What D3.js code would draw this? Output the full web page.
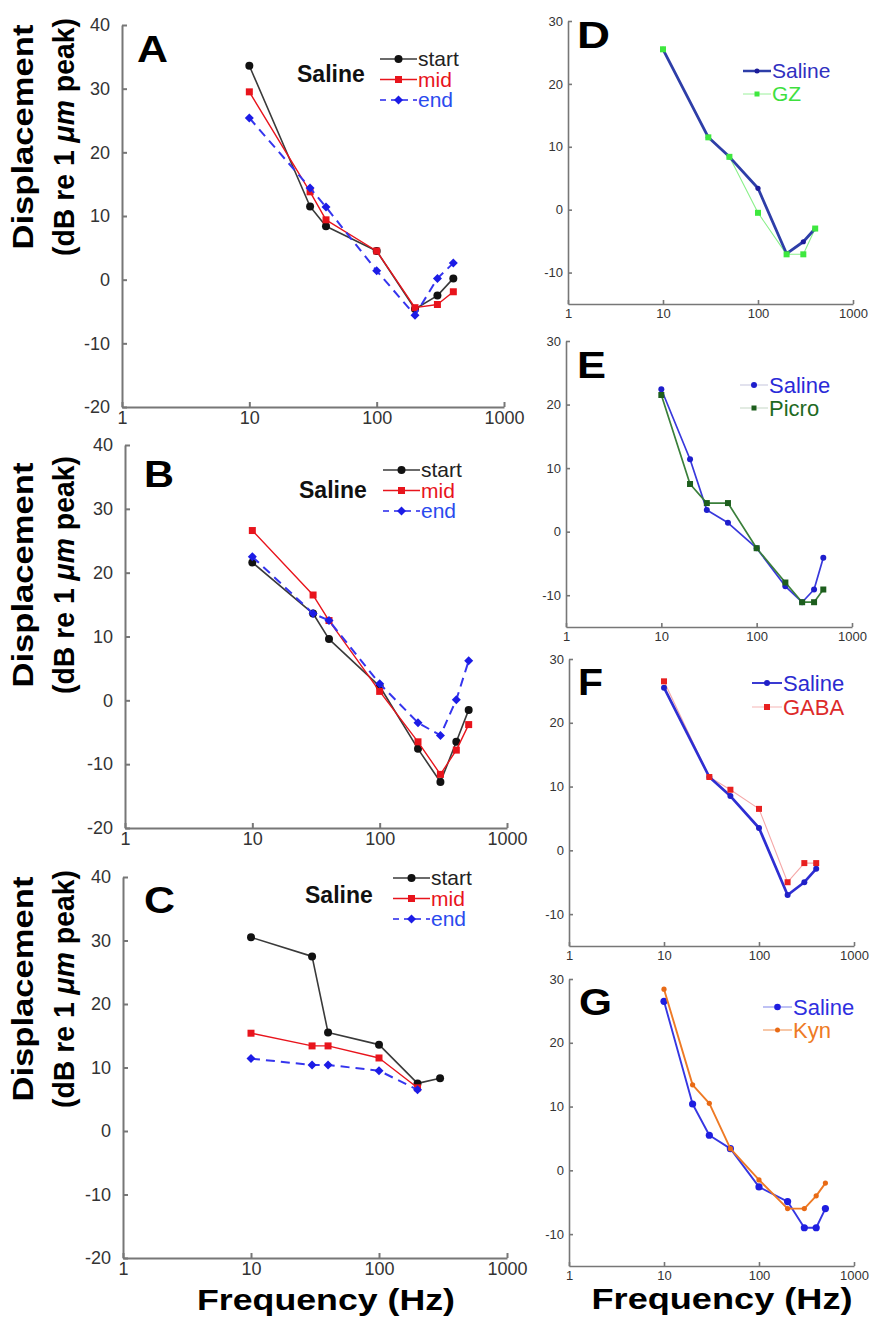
<!DOCTYPE html>
<html>
<head>
<meta charset="utf-8">
<script src="https://cdn.jsdelivr.net/npm/d3@7"></script>
<style>
  body { margin: 0; background: #fff; }
  svg { display: block; }
</style>
</head>
<body>
<script>
// Frequencies (Hz) and displacement (dB re 1 µm peak)
const xTicks = [1, 10, 100, 1000];
const yTicksLeft = [-20, -10, 0, 10, 20, 30, 40];
const yTicksRight = [-10, 0, 10, 20, 30];

const freqA = [10, 30, 40, 100, 200, 300, 400];
const aStart = [33.6, 11.5, 8.4, 4.5, -4.6, -2.5, 0.2];
const aMid   = [29.5, 13.8, 9.4, 4.5, -4.4, -3.9, -1.9];
const aEnd   = [25.4, 14.4, 11.4, 1.4, -5.6, 0.2, 2.6];

const freqB = [10, 30, 40, 100, 200, 300, 400, 500];
const bStart = [21.6, 13.6, 9.6, 2.2, -7.6, -12.8, -6.5, -1.5];
const bMid   = [26.6, 16.5, 12.5, 1.4, -6.5, -11.6, -7.8, -3.8];
const bEnd   = [22.5, 13.6, 12.5, 2.6, -3.5, -5.5, 0.1, 6.2];

const freqC = [10, 30, 40, 100, 200, 300];
const cStart = [30.5, 27.5, 15.5, 13.6, 7.5, 8.3];
const freqC2 = [10, 30, 40, 100, 200];
const cMid   = [15.4, 13.4, 13.4, 11.5, 6.8];
const cEnd   = [11.4, 10.4, 10.4, 9.5, 6.5];

const freqD = [10, 30, 50, 100, 200, 300, 400];
const dSaline = [25.5, 11.5, 8.4, 3.4, -7.0, -5.1, -3.0];
const dGZ     = [25.5, 11.5, 8.4, -0.5, -7.1, -7.1, -3.0];

const freqE = [10, 20, 30, 50, 100, 200, 300, 400, 500];
const eSaline = [22.4, 11.4, 3.4, 1.4, -2.6, -8.6, -11.1, -9.1, -4.1];
const ePicro  = [21.5, 7.5, 4.5, 4.5, -2.6, -8.0, -11.1, -11.1, -9.1];

const freqF = [10, 30, 50, 100, 200, 300, 400];
const fSaline = [25.5, 11.5, 8.5, 3.5, -7.0, -5.0, -2.9];
const fGABA   = [26.5, 11.5, 9.5, 6.5, -5.0, -2.0, -2.0];

const freqG = [10, 20, 30, 50, 100, 200, 300, 400, 500];
const gSaline = [26.5, 10.4, 5.5, 3.4, -2.6, -4.9, -9.0, -9.0, -6.0];
const gKyn    = [28.4, 13.4, 10.5, 3.4, -1.5, -6.0, -6.0, -4.0, -2.0];

const W = 875, H = 1318;
const FONT = "'Liberation Sans', Arial, Helvetica, sans-serif";

const svg = d3.select("body").append("svg")
  .attr("width", W).attr("height", H)
  .attr("viewBox", [0, 0, W, H])
  .style("font-family", FONT);

const zip = (xs, ys) => xs.map((f, i) => [f, ys[i]]);

function marker(g, shape, cx, cy, size, fill) {
  if (shape === "circle") {
    g.append("circle").attr("cx", cx).attr("cy", cy).attr("r", size).attr("fill", fill);
  } else if (shape === "square") {
    g.append("path").attr("d", d3.symbol().type(d3.symbolSquare).size(size * size)())
      .attr("transform", `translate(${cx},${cy})`).attr("fill", fill);
  } else {
    // even diamond: a square turned 45 degrees
    g.append("path").attr("d", d3.symbol().type(d3.symbolSquare).size(size * size / 2)())
      .attr("transform", `translate(${cx},${cy}) rotate(45)`).attr("fill", fill);
  }
}

function panel(p) {
  const g = svg.append("g");
  const x = d3.scaleLog().domain([1, 1000]).range([p.x0, p.x1]);
  const y = d3.scaleLinear().domain(p.yDomain).range([p.yBot, p.yTop]);

  const big = p.big;
  const ax = g.append("g").attr("transform", `translate(0,${p.yBot})`)
    .call(d3.axisBottom(x).tickValues(xTicks).tickFormat(d => String(d))
      .tickSizeInner(big ? -5 : -4).tickSizeOuter(0).tickPadding(big ? 4 : 5));
  const ay = g.append("g").attr("transform", `translate(${p.x0},0)`)
    .call(d3.axisLeft(y).tickValues(big ? yTicksLeft : yTicksRight).tickFormat(d => String(d))
      .tickSizeInner(big ? -5 : -4).tickSizeOuter(0).tickPadding(big ? 12 : 5));
  for (const a of [ax, ay]) {
    a.select(".domain").attr("stroke", "#777").attr("stroke-width", big ? 2 : 1.6);
    a.selectAll(".tick line").attr("stroke", "#777").attr("stroke-width", big ? 2 : 1.6);
    a.selectAll(".tick text").attr("fill", "#333")
      .style("font-family", FONT).style("font-size", big ? "18px" : "13px");
  }

  const line = d3.line().x(d => x(d[0])).y(d => y(d[1]));
  for (const s of p.series) {
    const pts = zip(s.freq, s.vals);
    if (s.width > 0) {
      g.append("path").datum(pts).attr("d", line)
        .attr("fill", "none").attr("stroke", s.lineColor)
        .attr("stroke-width", s.width)
        .attr("stroke-dasharray", s.dash || null)
        .attr("stroke-linejoin", "round");
    }
    if (s.noMarkers) continue;
    for (const d of pts) marker(g, s.marker, x(d[0]), y(d[1]), s.size, s.color);
  }

  // panel letter
  g.append("text").attr("x", p.letter[0]).attr("y", p.letter[1])
    .attr("font-size", 36).attr("font-weight", "bold").attr("fill", "#000")
    .attr("textLength", p.letter[2]).attr("lengthAdjust", "spacingAndGlyphs")
    .text(p.name);

  // legend
  const L = p.legend;
  if (L.title) {
    g.append("text").attr("x", L.title[0]).attr("y", L.title[1])
      .attr("font-size", 23).attr("font-weight", "bold").attr("fill", "#111")
      .text("Saline");
  }
  L.items.forEach((it, i) => {
    const yy = L.y + i * L.dy;
    g.append("line").attr("x1", L.x).attr("x2", L.x + L.w)
      .attr("y1", yy).attr("y2", yy)
      .attr("stroke", it.lineColor).attr("stroke-width", it.width)
      .attr("stroke-dasharray", it.dash || null);
    marker(g, it.marker, L.x + L.w / 2, yy, it.size, it.color);
    g.append("text").attr("x", L.x + L.w + 1).attr("y", yy + L.base)
      .attr("font-size", L.font).attr("fill", it.textColor).text(it.label);
  });
}

// left-panel series styles
const BLK = "#111", RED = "#e8141c", BLU = "#1c1ce6";
function abc(freqs, start, mid, end) {
  return [
    {freq: freqs[0], vals: start, color: BLK, lineColor: "#3a3a3a", width: 1.6, marker: "circle", size: 4},
    {freq: freqs[1], vals: mid, color: RED, lineColor: RED, width: 1.4, marker: "square", size: 7},
    {freq: freqs[2], vals: end, color: BLU, lineColor: "#3535ee", width: 2, dash: "9,6", marker: "diamond", size: 9},
  ];
}
function abcLegend(x, y, tx, ty) {
  return {
    x, y, dy: 20.5, w: 37, base: 7, font: 21, title: [tx, ty],
    items: [
      {label: "start", color: BLK, lineColor: "#3a3a3a", width: 1.6, marker: "circle", size: 4, textColor: "#222"},
      {label: "mid", color: RED, lineColor: RED, width: 1.4, marker: "square", size: 7, textColor: RED},
      {label: "end", color: BLU, lineColor: "#5a5af0", width: 2, dash: "6,5", marker: "diamond", size: 9, textColor: "#2a4aee"},
    ],
  };
}

panel({name: "A", big: true, x0: 122, x1: 504, yTop: 25, yBot: 407, yDomain: [-20, 40],
  letter: [137, 62, 31],
  series: abc([freqA, freqA, freqA], aStart, aMid, aEnd),
  legend: abcLegend(380, 59, 297, 82)});
panel({name: "B", big: true, x0: 125, x1: 507, yTop: 445, yBot: 828, yDomain: [-20, 40],
  letter: [144, 487, 30],
  series: abc([freqB, freqB, freqB], bStart, bMid, bEnd),
  legend: abcLegend(383, 470, 299, 498)});
panel({name: "C", big: true, x0: 123, x1: 507, yTop: 877, yBot: 1258, yDomain: [-20, 40],
  letter: [144, 913, 31],
  series: abc([freqC, freqC2, freqC2], cStart, cMid, cEnd),
  legend: abcLegend(393, 878, 305, 903)});

panel({name: "D", big: false, x0: 568, x1: 853, yTop: 21, yBot: 304, yDomain: [-15, 30],
  letter: [577, 48, 33],
  series: [
    {freq: freqD, vals: dGZ, color: "#3ee83e", lineColor: "#8af08a", width: 1.1, noMarkers: true},
    {freq: freqD, vals: dSaline, color: "#1c1c9a", lineColor: "#2e3ea8", width: 2.8, marker: "circle", size: 2.6},
    {freq: freqD, vals: dGZ, color: "#3ee83e", lineColor: "none", width: 0, marker: "square", size: 6},
  ],
  legend: {x: 743, y: 71, dy: 23, w: 28, base: 7, font: 21, items: [
    {label: "Saline", color: "#1c1c9a", lineColor: "#2e3ea8", width: 2.5, marker: "circle", size: 2.5, textColor: "#3030c0"},
    {label: "GZ", color: "#3ee83e", lineColor: "#9af09a", width: 1, marker: "square", size: 5, textColor: "#3ee03e"},
  ]}});

panel({name: "E", big: false, x0: 566, x1: 852, yTop: 341, yBot: 627, yDomain: [-15, 30],
  letter: [577, 378, 29],
  series: [
    {freq: freqE, vals: eSaline, color: "#1e1ecc", lineColor: "#3838dc", width: 1.7, marker: "circle", size: 3},
    {freq: freqE, vals: ePicro, color: "#1d5e1d", lineColor: "#3a7f3a", width: 1.7, marker: "square", size: 6},
  ],
  legend: {x: 740, y: 385, dy: 23, w: 28, base: 8, font: 22, items: [
    {label: "Saline", color: "#1e1ecc", lineColor: "#d8d8e8", width: 1.5, marker: "circle", size: 3, textColor: "#2a2ad8"},
    {label: "Picro", color: "#1d5e1d", lineColor: "#d8e4d8", width: 1.5, marker: "square", size: 5, textColor: "#1f6a1f"},
  ]}});

panel({name: "F", big: false, x0: 569, x1: 854, yTop: 659, yBot: 946, yDomain: [-15, 30],
  letter: [578, 695, 25],
  series: [
    {freq: freqF, vals: fGABA, color: "#e82020", lineColor: "#f5a8a8", width: 1.1, noMarkers: true},
    {freq: freqF, vals: fSaline, color: "#2020c8", lineColor: "#2e2ed2", width: 2.7, marker: "circle", size: 3},
    {freq: freqF, vals: fGABA, color: "#e82020", lineColor: "none", width: 0, marker: "square", size: 6},
  ],
  legend: {x: 752, y: 683, dy: 24, w: 30, base: 8, font: 22, items: [
    {label: "Saline", color: "#2020c8", lineColor: "#3a3ad2", width: 2, marker: "circle", size: 3, textColor: "#2b2bd0"},
    {label: "GABA", color: "#e82020", lineColor: "#f5b5b5", width: 1, marker: "square", size: 6, textColor: "#dd2a2a"},
  ]}});

panel({name: "G", big: false, x0: 569, x1: 854, yTop: 979, yBot: 1266, yDomain: [-15, 30],
  letter: [579, 1015, 33],
  series: [
    {freq: freqG, vals: gSaline, color: "#1e1ee0", lineColor: "#3636e2", width: 1.9, marker: "circle", size: 3.6},
    {freq: freqG, vals: gKyn, color: "#e86a15", lineColor: "#ee7a25", width: 1.9, marker: "circle", size: 2.6},
  ],
  legend: {x: 763, y: 1007, dy: 23, w: 29, base: 8, font: 22, items: [
    {label: "Saline", color: "#1e1ee0", lineColor: "#a8acf0", width: 1.5, marker: "circle", size: 3.3, textColor: "#2f2fe0"},
    {label: "Kyn", color: "#e86a15", lineColor: "#f5b48a", width: 1.5, marker: "circle", size: 2.5, textColor: "#ee7a25"},
  ]}});

// y-axis titles for the left column
for (const cy of [137, 575, 989]) {
  svg.append("text").attr("transform", `translate(33,${cy}) rotate(-90)`)
    .attr("text-anchor", "middle").attr("font-size", 29).attr("font-weight", "bold")
    .attr("textLength", 225).attr("lengthAdjust", "spacingAndGlyphs")
    .text("Displacement");
  const t = svg.append("text").attr("transform", `translate(74,${cy}) rotate(-90)`)
    .attr("text-anchor", "middle").attr("font-size", 29).attr("font-weight", "bold")
    .attr("textLength", 238).attr("lengthAdjust", "spacingAndGlyphs");
  t.append("tspan").text("(dB re 1 ");
  t.append("tspan").attr("font-style", "italic").text("μm");
  t.append("tspan").text(" peak)");
}

// x-axis titles
svg.append("text").attr("x", 326).attr("y", 1310).attr("text-anchor", "middle")
  .attr("font-size", 29).attr("font-weight", "bold")
  .attr("textLength", 258).attr("lengthAdjust", "spacingAndGlyphs")
  .text("Frequency (Hz)");
svg.append("text").attr("x", 722).attr("y", 1309).attr("text-anchor", "middle")
  .attr("font-size", 29).attr("font-weight", "bold")
  .attr("textLength", 261).attr("lengthAdjust", "spacingAndGlyphs")
  .text("Frequency (Hz)");
</script>
</body>
</html>
